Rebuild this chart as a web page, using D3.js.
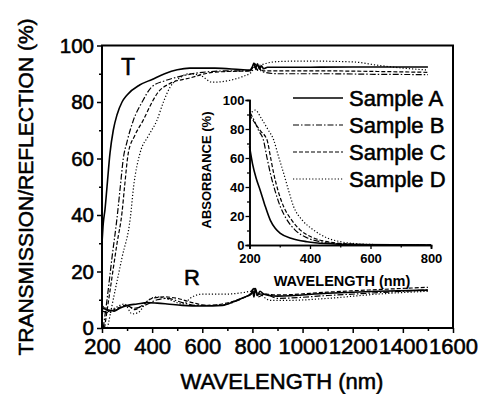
<!DOCTYPE html>
<html>
<head>
<meta charset="utf-8">
<script src="https://cdn.jsdelivr.net/npm/d3@7"></script>
<style>
  body { margin: 0; background: #fff; }
  svg { display: block; font-family: "Liberation Sans", Arial, sans-serif; }
  .heavy { stroke: #000; stroke-width: 0.55px; }
</style>
</head>
<body>
<svg width="482" height="394"></svg>
<script>
// transmission spectra [nm, %]
var tA = [[200,30],[205,37],[212,42],[220,50],[232,62],[245,70],[260,75.5],[280,80],[300,82.5],[350,86],[400,88],[450,90],[500,91.4],[550,92],[650,92],[750,91.5],[790,91.3],[800,92.5],[806,93.8],[812,92],[820,93.5],[828,91.6],[836,92.8],[845,91.8],[860,92.3],[900,92.3],[1000,92.3],[1200,92.4],[1400,92.4],[1500,92.4]];
var tB = [[205,0],[220,10],[240,25],[260,39],[273,50],[285,60],[300,66],[325,73.5],[360,80],[398,85.3],[450,87.5],[500,88.8],[600,90.5],[700,91],[790,91],[800,92],[808,93.2],[816,91],[826,92.6],[836,90.8],[850,90.5],[900,90],[1100,90],[1300,89.8],[1500,89.7]];
var tC = [[210,0],[230,12],[260,30],[280,41],[290,50],[305,62],[330,68],[364,73.5],[400,80],[420,83],[470,86.5],[550,88.5],[640,90.5],[700,90.8],[790,91],[800,92],[810,93.6],[820,91.2],[830,92.6],[842,91],[860,91],[900,91],[1100,91],[1300,90.8],[1500,90.5]];
var tD = [[222,0],[240,8],[280,25],[313,39],[326,50],[352,62],[385,68],[419,73.5],[445,80],[472,85.3],[510,88.5],[545,90],[590,89.5],[640,87],[700,87.5],[760,89],[795,90.5],[810,92.5],[830,93],[860,93.8],[900,94.3],[1000,94.5],[1200,94.2],[1300,93],[1400,92],[1500,91.3]];

// reflection spectra [nm, %]
var rA = [[200,7],[220,6.5],[250,6],[270,7],[300,8],[340,8.5],[380,9],[420,8.8],[460,8.5],[520,8],[600,7.8],[680,8],[730,9.5],[770,11],[795,12],[800,13.5],[806,11],[812,14],[820,11.5],[830,13],[845,12],[870,11.5],[900,11.3],[1100,12.3],[1300,13],[1500,13.4]];
var rB = [[200,6],[230,5.5],[260,6.5],[290,8],[330,7],[370,8],[420,10],[460,10.5],[520,9],[580,8],[660,8],[720,9],[770,11],[800,12.5],[808,14],[822,11],[850,12],[900,10.5],[1100,11.5],[1300,12.5],[1500,13.5]];
var rC = [[200,8],[230,6],[260,7],[300,8],[330,6.5],[360,8],[400,10.5],[450,11],[500,10.5],[560,9],[620,8],[680,8.5],[740,10],[790,12],[805,14],[820,12],[850,12],[900,11.7],[1100,12.7],[1300,13.6],[1500,14.4]];
var rD = [[200,5],[230,6],[260,7.5],[290,8.5],[320,5],[345,5.5],[380,9.5],[420,11],[470,10],[520,8.5],[560,11],[600,12],[700,12],[760,12.5],[800,13],[830,12],[870,9.8],[950,9.8],[1100,10.5],[1300,12],[1500,13]];

// absorbance spectra [nm, %]
var aA = [[200,68],[210,56],[222,46],[235,38],[250,28],[269,17],[285,11.5],[302,8],[340,4.5],[390,2.3],[450,1],[550,0.3],[800,0]];
var aB = [[200,92],[215,86],[230,79],[246,72.4],[258,60],[269,49.4],[285,37],[302,26.4],[325,17],[351,10.3],[390,5],[434,2.3],[500,0.8],[600,0.2],[800,0]];
var aC = [[200,89.6],[215,85],[235,79],[258,72.4],[270,60],[280,49.4],[295,37],[313,26.4],[340,17],[368,10.3],[410,5],[457,2.3],[520,0.8],[620,0.2],[800,0]];
var aD = [[200,90],[210,92],[219,93],[240,87],[260,80],[280,72.4],[296,61],[313,49.4],[330,37],[346,26.4],[375,17],[412,10.3],[455,5],[500,2.3],[560,0.8],[650,0.2],[800,0]];

var samples = ["Sample A", "Sample B", "Sample C", "Sample D"];
var dashes = [null, "6,2,1.5,2", "4,2", "1.2,2"];
var widths = [1.6, 1.2, 1.2, 1.2];

var mainTicksX = [200, 400, 600, 800, 1000, 1200, 1400, 1600];
var mainTicksY = [0, 20, 40, 60, 80, 100];
var insetTicksX = [200, 400, 600, 800];
var insetTicksY = [0, 20, 40, 60, 80, 100];

var svg = d3.select("svg");

// main panel
var x = d3.scaleLinear().domain([200, 1600]).range([102, 453]);
var y = d3.scaleLinear().domain([0, 100]).range([328, 45.5]);

var line = d3.line()
  .x(function(d) { return x(d[0]); })
  .y(function(d) { return y(d[1]); })
  .curve(d3.curveMonotoneX);

var main = svg.append("g");

[tA, tB, tC, tD].forEach(function(s, i) {
  main.append("path").attr("d", line(s))
    .attr("fill", "none").attr("stroke", "#000")
    .attr("stroke-width", widths[i])
    .attr("stroke-dasharray", dashes[i]);
});
[rA, rB, rC, rD].forEach(function(s, i) {
  main.append("path").attr("d", line(s))
    .attr("fill", "none").attr("stroke", "#000")
    .attr("stroke-width", widths[i])
    .attr("stroke-dasharray", dashes[i]);
});

// frame
main.append("rect")
  .attr("x", x(200)).attr("y", y(100))
  .attr("width", x(1600) - x(200)).attr("height", y(0) - y(100))
  .attr("fill", "none").attr("stroke", "#000").attr("stroke-width", 2);

var xAxis = main.append("g").attr("transform", "translate(0," + y(0) + ")")
  .call(d3.axisBottom(x).tickValues(mainTicksX).tickSize(5).tickPadding(5).tickFormat(d3.format("d")));
main.append("g").attr("transform", "translate(0," + y(0) + ")")
  .call(d3.axisBottom(x).tickValues(d3.range(300, 1600, 200)).tickSize(3).tickFormat(""));
var yAxis = main.append("g").attr("transform", "translate(" + x(200) + ",0)")
  .call(d3.axisLeft(y).tickValues(mainTicksY).tickSize(5).tickPadding(3));
main.append("g").attr("transform", "translate(" + x(200) + ",0)")
  .call(d3.axisLeft(y).tickValues(d3.range(10, 100, 20)).tickSize(3).tickFormat(""));

main.selectAll(".domain").remove();
main.selectAll(".tick line").attr("stroke-width", 1.5);
xAxis.selectAll("text").attr("font-size", 22).attr("class", "heavy")
  .attr("font-family", "Liberation Sans").attr("dy", "0.74em");
yAxis.selectAll("text").attr("font-size", 20.5).attr("class", "heavy")
  .attr("font-family", "Liberation Sans");

svg.append("text").attr("class", "heavy")
  .attr("x", 282).attr("y", 389)
  .attr("text-anchor", "middle").attr("font-size", 22)
  .text("WAVELENGTH (nm)");
svg.append("text").attr("class", "heavy")
  .attr("transform", "translate(33,187) rotate(-90)")
  .attr("text-anchor", "middle").attr("font-size", 21)
  .text("TRANSMISSION/REFLECTION (%)");

svg.append("text").attr("class", "heavy").attr("x", 128).attr("y", 75)
  .attr("text-anchor", "middle").attr("font-size", 23).text("T");
svg.append("text").attr("class", "heavy").attr("x", 192).attr("y", 285)
  .attr("text-anchor", "middle").attr("font-size", 22).text("R");

// legend
var legend = svg.append("g");
samples.forEach(function(name, i) {
  var ly = 98 + i * 27;
  legend.append("line")
    .attr("x1", 293).attr("x2", 343).attr("y1", ly).attr("y2", ly)
    .attr("stroke", "#000").attr("stroke-width", widths[i])
    .attr("stroke-dasharray", dashes[i]);
  legend.append("text").attr("class", "heavy")
    .attr("x", 349).attr("y", ly + 8)
    .attr("font-size", 22).text(name);
});

// inset: absorbance
var xi = d3.scaleLinear().domain([200, 800]).range([249.5, 431]);
var yi = d3.scaleLinear().domain([0, 100]).range([245, 100]);

var lineI = d3.line()
  .x(function(d) { return xi(d[0]); })
  .y(function(d) { return yi(d[1]); })
  .curve(d3.curveMonotoneX);

var inset = svg.append("g");
[aA, aB, aC, aD].forEach(function(s, i) {
  inset.append("path").attr("d", lineI(s))
    .attr("fill", "none").attr("stroke", "#000")
    .attr("stroke-width", widths[i])
    .attr("stroke-dasharray", dashes[i]);
});

var ixAxis = inset.append("g").attr("transform", "translate(0," + yi(0) + ")")
  .call(d3.axisBottom(xi).tickValues(insetTicksX).tickSize(4).tickPadding(5));
inset.append("g").attr("transform", "translate(0," + yi(0) + ")")
  .call(d3.axisBottom(xi).tickValues([300, 500, 700]).tickSize(2.5).tickFormat(""));
var iyAxis = inset.append("g").attr("transform", "translate(" + xi(200) + ",0)")
  .call(d3.axisLeft(yi).tickValues(insetTicksY).tickSize(4).tickPadding(1));
inset.append("g").attr("transform", "translate(" + xi(200) + ",0)")
  .call(d3.axisLeft(yi).tickValues(d3.range(10, 100, 20)).tickSize(2.5).tickFormat(""));

inset.selectAll(".domain").attr("stroke-width", 1.6);
inset.selectAll(".tick line").attr("stroke-width", 1.3);
inset.selectAll(".tick text")
  .attr("font-size", 13).attr("font-weight", "bold").attr("font-family", "Liberation Sans");

svg.append("text")
  .attr("x", 342).attr("y", 286)
  .attr("text-anchor", "middle").attr("font-size", 14.5).attr("font-weight", "bold")
  .text("WAVELENGTH (nm)");
svg.append("text")
  .attr("transform", "translate(211,170) rotate(-90)")
  .attr("text-anchor", "middle").attr("font-size", 13).attr("font-weight", "bold")
  .text("ABSORBANCE (%)");
</script>
</body>
</html>
